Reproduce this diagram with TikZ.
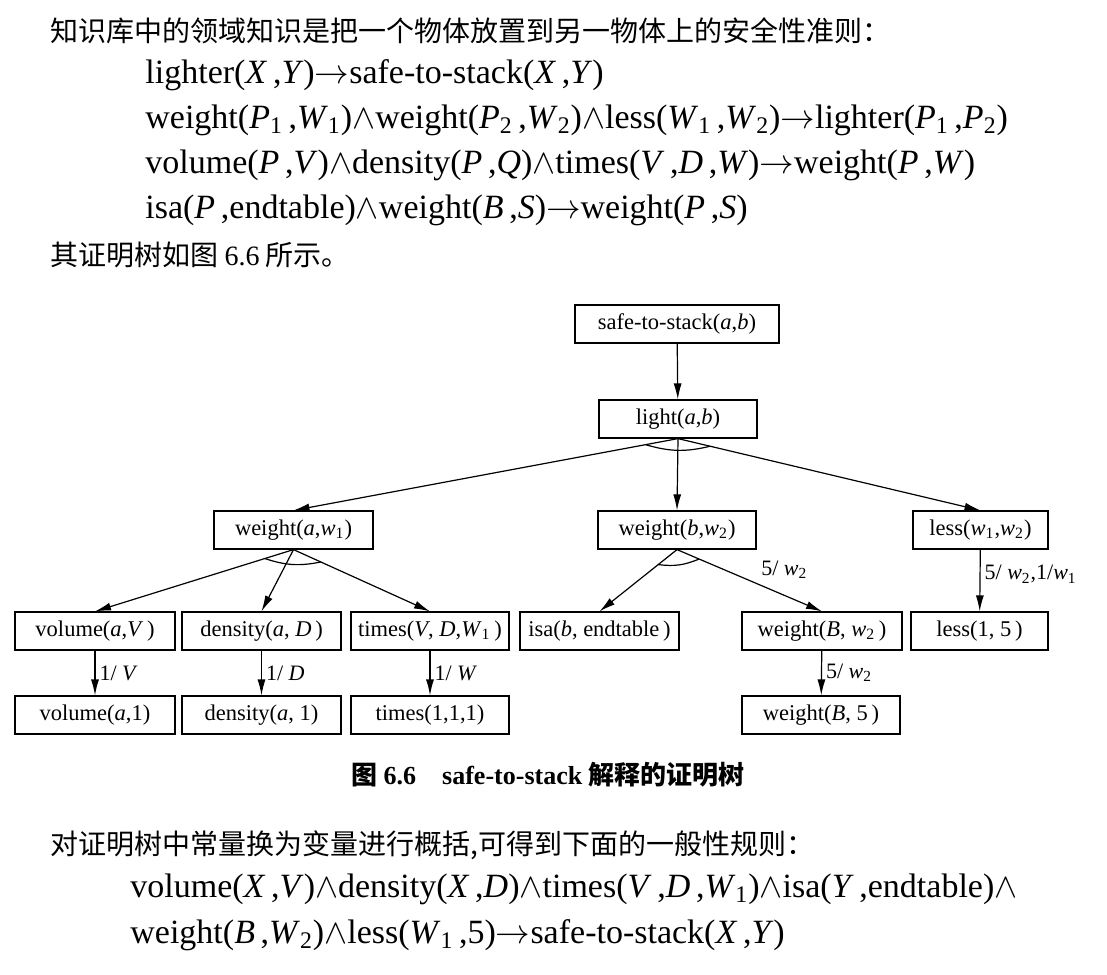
\documentclass[tikz,border=0pt]{standalone}
\usepackage{fontspec}
\setmainfont{Liberation Serif}
\newfontfamily\cjk{Noto Sans CJK SC}
\usetikzlibrary{arrows.meta,calc}

\newcommand{\iv}[1]{\textit{#1}}
\newcommand{\arr}{$\rightarrow$}
\newcommand{\und}{$\wedge$}

\tikzset{
  box/.style={draw,line width=.6pt,minimum height=19pt,inner sep=1pt,
    font=\fontsize{11.25}{13}\selectfont},
  link/.style={line width=.6pt,-{Latex[length=8pt,width=4pt]}},
  lab/.style={font=\fontsize{11}{13}\selectfont,inner sep=2pt},
  andarc/.style={line width=.6pt},
  para/.style={anchor=west,inner sep=0pt,font=\cjk\fontsize{14}{16}\selectfont},
  rule/.style={anchor=west,inner sep=0pt,font=\fontsize{17}{20}\selectfont}
}

\begin{document}
\begin{tikzpicture}[x=.5pt,y=-.5pt]
\useasboundingbox (0,0) rectangle (1107,974);

% text before the figure
\node[para] (t1) at (50,31) {知识库中的领域知识是把一个物体放置到另一物体上的安全性准则：};
\node[rule] (r1) at (145,75) {lighter(\iv{X}\,,\iv{Y})\arr safe-to-stack(\iv{X}\,,\iv{Y})};
\node[rule] (r2) at (145,120) {weight(\iv{P}\textsubscript{1}\,,\iv{W}\textsubscript{1})\und weight(\iv{P}\textsubscript{2}\,,\iv{W}\textsubscript{2})\und less(\iv{W}\textsubscript{1}\,,\iv{W}\textsubscript{2})\arr lighter(\iv{P}\textsubscript{1}\,,\iv{P}\textsubscript{2})};
\node[rule] (r3) at (145,165) {volume(\iv{P}\,,\iv{V})\und density(\iv{P}\,,\iv{Q})\und times(\iv{V}\,,\iv{D}\,,\iv{W})\arr weight(\iv{P}\,,\iv{W})};
\node[rule] (r4) at (145,210) {isa(\iv{P}\,,endtable)\und weight(\iv{B}\,,\iv{S})\arr weight(\iv{P}\,,\iv{S})};
\node[para] (t2) at (50,255) {其证明树如图 {\rmfamily 6.6} 所示。};

% proof tree
\node[box,minimum width=102pt] (safe) at (677,324) {safe-to-stack(\iv{a},\iv{b})};
\node[box,minimum width=79pt] (light) at (678,419) {light(\iv{a},\iv{b})};

\node[box,minimum width=79.5pt] (wa) at (293.5,530) {weight(\iv{a},\iv{w}\textsubscript{1})};
\node[box,minimum width=79pt] (wb) at (677,530) {weight(\iv{b},\iv{w}\textsubscript{2})};
\node[box,minimum width=67.5pt] (ls) at (980.5,530) {less(\iv{w}\textsubscript{1},\iv{w}\textsubscript{2})};

\node[box,minimum width=80pt] (vol) at (95,631) {volume(\iv{a},\iv{V}\,)};
\node[box,minimum width=79.5pt] (den) at (261.5,631) {density(\iv{a}, \iv{D}\,)};
\node[box,minimum width=79pt] (tim) at (430,631) {times(\iv{V}, \iv{D},\iv{W}\textsubscript{1}\,)};
\node[box,minimum width=79.5pt] (isa) at (599.5,631) {isa(\iv{b}, endtable\,)};
\node[box,minimum width=80pt] (wB) at (822,631) {weight(\iv{B}, \iv{w}\textsubscript{2}\,)};
\node[box,minimum width=68.5pt] (lone) at (979.5,631) {less(1, 5\,)};

\node[box,minimum width=80pt] (vol1) at (95,715) {volume(\iv{a},1)};
\node[box,minimum width=79.5pt] (den1) at (261.5,715) {density(\iv{a}, 1)};
\node[box,minimum width=79pt] (tim1) at (430,715) {times(1,1,1)};
\node[box,minimum width=79pt] (wB5) at (821,715) {weight(\iv{B}, 5\,)};

\draw[link] (safe) -- (light);
\draw[link] (light.south) -- (wa.north);
\draw[link] (light.south) -- (wb.north);
\draw[link] (light.south) -- (ls.north);
\draw[andarc] ($(light.south)!16.5pt!(wa.north)$) to[bend right=15] ($(light.south)!16.5pt!(ls.north)$);

\draw[link] (wa.south) -- (vol.north);
\draw[link] (wa.south) -- (den.north);
\draw[link] (wa.south) -- (tim.north);
\draw[andarc] ($(wa.south)!15pt!(vol.north)$) to[bend right=15] ($(wa.south)!15pt!(tim.north)$);

\draw[link] (wb.south) -- (isa.north);
\draw[link] (wb.south) -- node[lab,above right,pos=.55] {5/ \iv{w}\textsubscript{2}} (wB.north);
\draw[andarc] ($(wb.south)!12pt!(isa.north)$) to[bend right=15] ($(wb.south)!12pt!(wB.north)$);

\draw[link] (ls) -- node[lab,right,pos=.4] {5/ \iv{w}\textsubscript{2},1/\iv{w}\textsubscript{1}} (lone);

\draw[link] (vol) -- node[lab,right] {1/ \iv{V}} (vol1);
\draw[link] (den) -- node[lab,right] {1/ \iv{D}} (den1);
\draw[link] (tim) -- node[lab,right] {1/ \iv{W}} (tim1);
\draw[link] (wB) -- node[lab,right] {5/ \iv{w}\textsubscript{2}} (wB5);

% caption and text after the figure
\node[font=\fontsize{13}{15}\selectfont] (cap) at (548,775) {{\cjk\bfseries 图} \textbf{6.6}\quad\textbf{safe-to-stack} {\cjk\bfseries 解释的证明树}};
\node[para] (t3) at (50,845) {对证明树中常量换为变量进行概括,可得到下面的一般性规则：};
\node[rule] (r5) at (130,889) {volume(\iv{X}\,,\iv{V})\und density(\iv{X}\,,\iv{D})\und times(\iv{V}\,,\iv{D}\,,\iv{W}\textsubscript{1})\und isa(\iv{Y}\,,endtable)\und};
\node[rule] (r6) at (130,935) {weight(\iv{B}\,,\iv{W}\textsubscript{2})\und less(\iv{W}\textsubscript{1}\,,5)\arr safe-to-stack(\iv{X}\,,\iv{Y})};
\end{tikzpicture}
\end{document}
